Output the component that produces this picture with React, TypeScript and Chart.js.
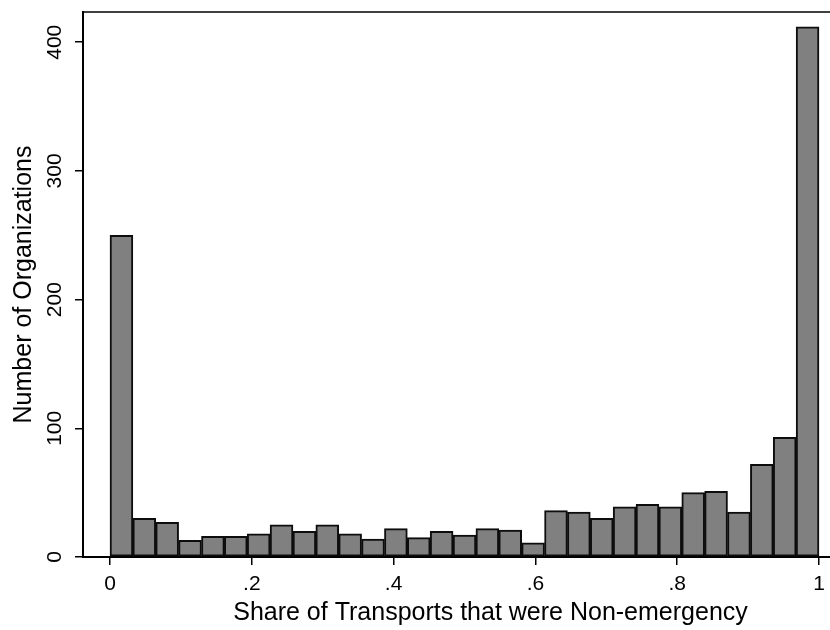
import React, { useEffect, useRef } from "react";
import { Chart, registerables } from "chart.js";

Chart.register(...registerables);

// ---- data ----
const binCount = 31;
const counts = [
  250, 30, 27, 13, 16, 16, 18, 25, 20, 25, 18, 14, 22, 15, 20, 17,
  22, 21, 11, 36, 35, 30, 39, 41, 39, 50, 51, 35, 72, 93, 412,
];
const xTickValues = [0, 0.2, 0.4, 0.6, 0.8, 1];
const xTickLabels = ["0", ".2", ".4", ".6", ".8", "1"];
const yTickValues = [0, 100, 200, 300, 400];
const yTickLabels = ["0", "100", "200", "300", "400"];
const xTitle = "Share of Transports that were Non-emergency";
const yTitle = "Number of Organizations";

const FONT = "'Liberation Sans', Arial, Helvetica, sans-serif";
const TICK_SIZE = 21;
const TITLE_SIZE = 25;

export default function App() {
  const ref = useRef<HTMLCanvasElement>(null);

  useEffect(() => {
    const canvas = ref.current;
    if (!canvas) return;

    const data = counts.map((c, i) => ({ x: (i + 0.5) / binCount, y: c }));

    const framePlugin = {
      id: "frame",
      afterDraw(chart: any) {
        const { ctx, chartArea } = chart;
        const ys = chart.scales.y;
        ctx.save();
        ctx.strokeStyle = "#000";
        ctx.lineWidth = 1.5;
        ctx.beginPath();
        ctx.moveTo(chartArea.left, chartArea.top);
        ctx.lineTo(chartArea.right, chartArea.top);
        ctx.stroke();
        ctx.fillStyle = "#000";
        ctx.font = `${TICK_SIZE}px ${FONT}`;
        ctx.textAlign = "center";
        ctx.textBaseline = "middle";
        yTickValues.forEach((v, i) => {
          const py = ys.getPixelForValue(v);
          ctx.save();
          ctx.translate(ys.right - 27.5, py);
          ctx.rotate(-Math.PI / 2);
          ctx.fillText(yTickLabels[i], 0, 0);
          ctx.restore();
        });
        ctx.restore();
      },
    };

    const chart = new Chart(canvas, {
      type: "bar",
      data: {
        datasets: [
          {
            data,
            backgroundColor: "#808080",
            borderColor: "#0d0d0d",
            borderWidth: 2,
            borderSkipped: false,
            barPercentage: 1,
            categoryPercentage: 1,
          } as any,
        ],
      },
      options: {
        responsive: false,
        animation: false,
        devicePixelRatio: 1,
        layout: { padding: { top: 12, left: 0, right: 0, bottom: 0 } },
        plugins: {
          legend: { display: false },
          tooltip: { enabled: false },
        },
        scales: {
          x: {
            type: "linear",
            offset: false,
            bounds: "data",
            min: -27 / 709,
            max: 788 / 709,
            afterBuildTicks: (s: any) => {
              s.ticks = xTickValues.map((v) => ({ value: v }));
            },
            afterFit: (s: any) => {
              s.height = 73;
            },
            ticks: {
              autoSkip: false,
              maxRotation: 0,
              minRotation: 0,
              padding: 7,
              color: "#000",
              font: { family: FONT, size: TICK_SIZE },
              callback: (value: any) => {
                const i = xTickValues.findIndex((t) => Math.abs(t - Number(value)) < 1e-9);
                return i >= 0 ? xTickLabels[i] : "";
              },
            },
            grid: {
              display: true,
              offset: false,
              drawOnChartArea: false,
              drawTicks: true,
              tickLength: 8,
              color: "#000",
              lineWidth: 1.5,
            },
            border: { display: true, color: "#000", width: 2 },
            title: {
              display: true,
              text: xTitle,
              color: "#000",
              font: { family: FONT, size: TITLE_SIZE },
              padding: { top: 0, bottom: 1.5 },
            },
          },
          y: {
            type: "linear",
            bounds: "data",
            min: 0,
            max: 423.5,
            afterBuildTicks: (s: any) => {
              s.ticks = yTickValues.map((v) => ({ value: v }));
            },
            afterFit: (s: any) => {
              s.width = 83;
            },
            ticks: { display: false },
            grid: {
              display: true,
              drawOnChartArea: false,
              drawTicks: true,
              tickLength: 8,
              color: "#000",
              lineWidth: 1.5,
            },
            border: { display: true, color: "#000", width: 2 },
            title: {
              display: true,
              text: yTitle,
              color: "#000",
              font: { family: FONT, size: TITLE_SIZE },
              padding: { top: 9, bottom: 0 },
            },
          },
        },
      } as any,
      plugins: [framePlugin],
    });

    return () => {
      chart.destroy();
    };
  }, []);

  return (
    <div
      style={{
        position: "fixed",
        left: 0,
        top: 0,
        width: 830,
        height: 630,
        overflow: "hidden",
        background: "#fff",
      }}
    >
      <canvas ref={ref} width={898} height={630} style={{ display: "block" }} />
    </div>
  );
}
